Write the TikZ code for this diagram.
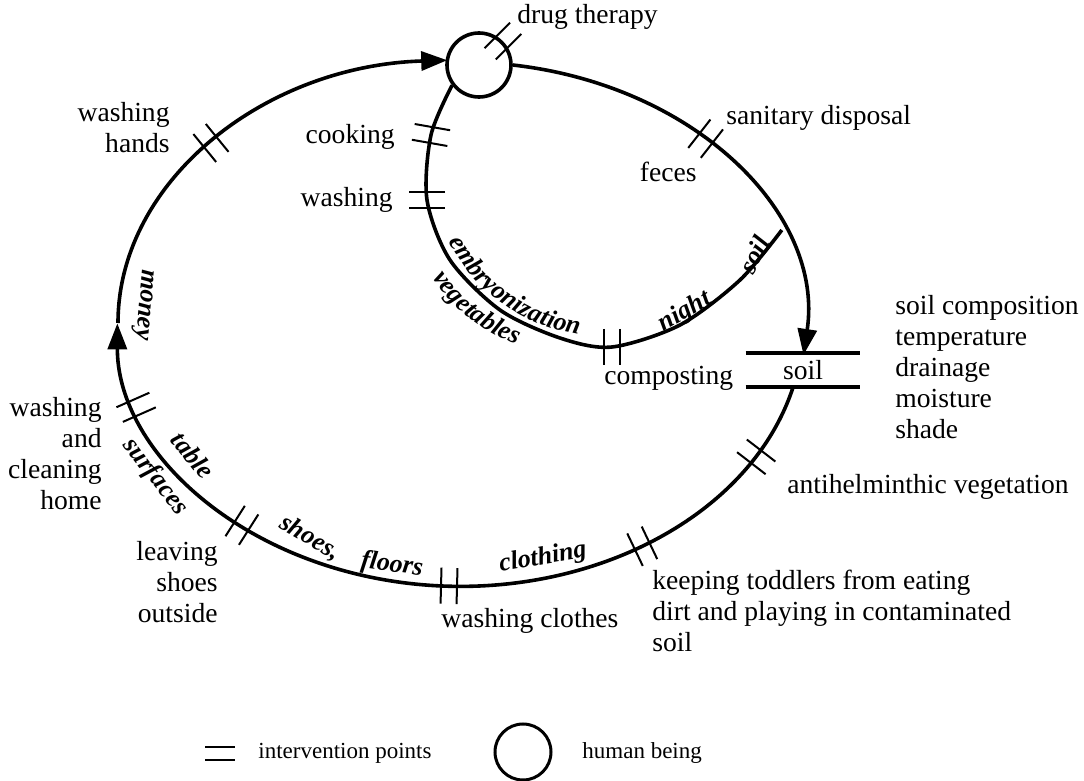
\documentclass[tikz,border=0pt]{standalone}
\usepackage{fontspec}
\setmainfont{Liberation Serif}
\usetikzlibrary{arrows.meta,calc,decorations.text}

\tikzset{
  flow/.style={line width=1.8pt},
  arrowflow/.style={flow, -{Triangle[length=13pt,width=9.5pt]}},
  lbl/.style={inner sep=0pt, font=\fontsize{13.8}{15.5}\selectfont},
  route/.style={inner sep=0pt, font=\fontsize{13}{15}\selectfont\bfseries\itshape},
  keytext/.style={lbl, font=\fontsize{11.5}{13}\selectfont},
  ipt/.pic={\draw[line width=1pt] (-8,-18) -- (-8,18) (8,-18) -- (8,18);}
}

\begin{document}
\begin{tikzpicture}[x=0.5pt, y=-0.5pt]
    \useasboundingbox (0,0) rectangle (1084,781);

    % --- Define Nodes ---
    % the human being
    \node[draw, circle, line width=1.8pt, minimum size=32pt, inner sep=0pt] (hb) at (479,65) {};

    % the soil
    \node[lbl, minimum width=57pt, minimum height=17pt] (soil) at (803,370) {soil};
    \draw[line width=2pt] (soil.north west) -- (soil.north east)
                          (soil.south west) -- (soil.south east);

    % --- Define Coordinates ---
    % centre of the big cycle (radii 343 and 263)
    \coordinate (oc) at (461,323);

    % night soil joins the feces route
    \coordinate (jn) at ($(oc)+(-20.7:343 and 263)$);

    % leaving the soil
    \coordinate (sb) at ($(soil.south)+(-10,0)$);

    % money arrow on the left
    \coordinate (mt) at ($(oc)+(180:343 and 263)$);

    % intervention points
    \coordinate (wh) at ($(oc)+(223.2:343 and 263)$);  % washing hands
    \coordinate (sd) at ($(oc)+(-44.5:343 and 263)$);  % sanitary disposal
    \coordinate (av) at ($(oc)+(30.6:343 and 263)$);   % antihelminthic vegetation
    \coordinate (kt) at ($(oc)+(58.1:343 and 263)$);   % keeping toddlers
    \coordinate (wc) at ($(oc)+(92:343 and 263)$);     % washing clothes
    \coordinate (ls) at ($(oc)+(129.7:343 and 263)$);  % leaving shoes
    \coordinate (wk) at ($(oc)+(161.3:343 and 263)$);  % washing and cleaning
    \coordinate (ck) at (431,135);  % cooking
    \coordinate (wa) at (427,200);  % washing
    \coordinate (cp) at (612,347);  % composting

    % --- Draw Routes ---
    % feces to the soil
    \draw[arrowflow] (hb.east) arc[start angle=-81.6, end angle=6.5, x radius=343, y radius=263];

    % soil back round the bottom
    \draw[arrowflow] (sb) arc[start angle=14.1, end angle=180, x radius=343, y radius=263];

    % up the left to the human being
    \draw[arrowflow] (mt) arc[start angle=180, end angle=267.7, x radius=343, y radius=263];

    % night soil loop
    \draw[flow] plot[smooth] coordinates {(hb.217) (ck) (wa) (450,260) (500,310) (560,338) (cp) (680,325) (740,280) (jn)};

    % --- Intervention Marks ---
    \pic[rotate=-45] at (hb.45) {ipt};
    \pic[rotate=39.2] at (wh) {ipt};
    \pic[rotate=-100] at (ck) {ipt};
    \pic[rotate=-90] at (wa) {ipt};
    \pic[rotate=-38] at (sd) {ipt};
    \pic at (cp) {ipt};
    \pic[rotate=52.4] at (av) {ipt};
    \pic[rotate=25.5] at (kt) {ipt};
    \pic[rotate=-1.5] at (wc) {ipt};
    \pic[rotate=-32.5] at (ls) {ipt};
    \pic[rotate=-66.2] at (wk) {ipt};

    % --- Place Labels ---
    \node[lbl, anchor=base west] (dt) at (517,24) {drug therapy};
    \node[lbl, anchor=east, align=right] (hw) at (170,128) {washing\\hands};
    \node[lbl, anchor=east] (co) at (395,137) {cooking};
    \node[lbl, anchor=east] (ws) at (393,200) {washing};
    \node[lbl, anchor=west] (sn) at (726,118) {sanitary disposal};
    \node[lbl, anchor=east] (fe) at (697,172) {feces};
    \node[lbl, anchor=west] (cm) at (604,378) {composting};
    \node[lbl, anchor=west, align=left] (sf) at (895,367) {soil composition\\temperature\\drainage\\moisture\\shade};
    \node[lbl, anchor=west] (ah) at (787,487) {antihelminthic vegetation};
    \node[lbl, anchor=west, align=left] (td) at (652,611) {keeping toddlers from eating\\dirt and playing in contaminated\\soil};
    \node[lbl, anchor=west] (cl) at (441,621) {washing clothes};
    \node[lbl, anchor=east, align=right] (lv) at (218,582) {leaving\\shoes\\outside};
    \node[lbl, anchor=east, align=right] (hm) at (102,454) {washing\\and\\cleaning\\home};

    % route names
    \node[route, rotate=-95] (mo) at (143,305) {money};
    \node[route, rotate=-51] (tb) at (193,455) {table};
    \node[route, rotate=-52] (su) at (155,477) {surfaces};
    \node[route, rotate=-30] (sh) at (310,538) {shoes,};
    \node[route, rotate=-8] (fl) at (392,565) {floors};
    \node[route, rotate=10] (ct) at (543,558) {clothing};
    \node[route, rotate=30] (ni) at (685,312) {night};
    \node[route, rotate=62] (so) at (754,255) {soil};
    \path[decorate, decoration={text along path, text align=center,
        text={|\fontsize{13}{15}\selectfont\bfseries\itshape|embryonization}}]
        (440,220) .. controls (460,282) and (522,334) .. (602,337);
    \path[decorate, decoration={text along path, text align=center,
        text={|\fontsize{13}{15}\selectfont\bfseries\itshape|vegetables}}]
        (420,250) .. controls (433,292) and (475,336) .. (545,354);

    % --- Key ---
    \draw[line width=1.2pt] (205,747) -- (235,747) (205,760) -- (235,760);
    \node[keytext, anchor=west] (ki) at (258,753) {intervention points};
    \node[draw, circle, line width=1.5pt, minimum size=28pt, inner sep=0pt] (kh) at (523,752) {};
    \node[keytext, anchor=west] (kn) at (582,753) {human being};

\end{tikzpicture}
\end{document}
